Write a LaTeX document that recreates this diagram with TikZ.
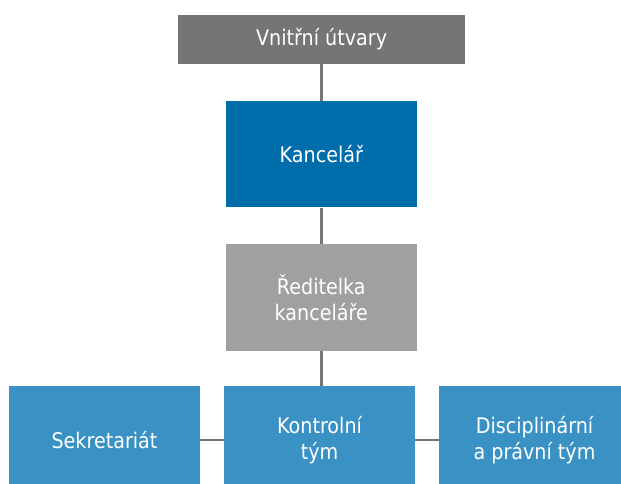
\documentclass[tikz,border=0pt]{standalone}
\usepackage{fontspec}
\setmainfont{DejaVu Sans}[FakeStretch=0.89]
\definecolor{topgray}{RGB}{117,117,117}
\definecolor{kancblue}{RGB}{0,110,171}
\definecolor{midgray}{RGB}{160,160,162}
\definecolor{lowblue}{RGB}{58,146,196}
\definecolor{linegray}{RGB}{118,118,118}
\tikzset{
  box/.style={rectangle, inner sep=0pt, text=white, align=center,
    font=\fontsize{21.5}{26}\selectfont},
  conn/.style={draw=linegray, line width=2.7pt}
}
\begin{document}
\begin{tikzpicture}[x=1pt,y=-1pt]
\useasboundingbox (0,0) rectangle (621,483);
\clip (0,0) rectangle (621,483);
\fill[white] (0,0) rectangle (621,483);
\node[box, fill=topgray, minimum width=287.7pt, minimum height=49pt] (top) at (321.6,39.5) {Vnitřní útvary};
\node[box, fill=kancblue, minimum width=190.7pt, minimum height=106.6pt] (kanc) at (321.3,154) {Kancelář};
\node[box, fill=midgray, minimum width=190.7pt, minimum height=106.7pt] (red) at (321.3,297.3) {Ředitelka\\kanceláře};
\node[box, fill=lowblue, minimum width=191pt, minimum height=108pt] (sek) at (104.5,440) {Sekretariát};
\node[box, fill=lowblue, minimum width=191pt, minimum height=108pt] (kon) at (319.5,440) {Kontrolní\\tým};
\node[box, fill=lowblue, minimum width=191pt, minimum height=108pt] (dis) at (534.5,440) {Disciplinární\\a právní tým};
\draw[conn] (top.south -| kanc.north) -- (kanc.north);
\draw[conn] (kanc.south) -- (red.north);
\draw[conn] (red.south) -- (red.south |- kon.north);
\draw[conn] (sek.east) -- (kon.west);
\draw[conn] (kon.east) -- (dis.west);
\end{tikzpicture}
\end{document}
